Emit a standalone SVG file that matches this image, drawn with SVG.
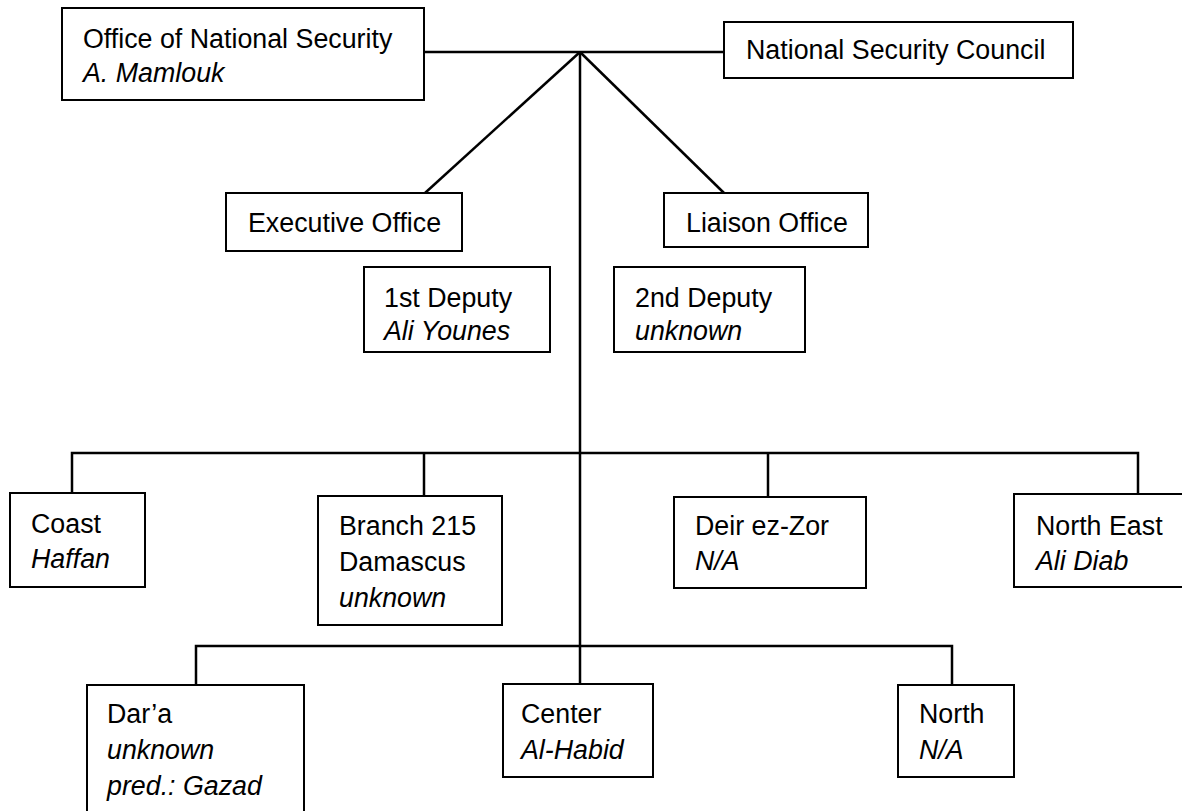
<svg xmlns="http://www.w3.org/2000/svg" width="1182" height="811" viewBox="0 0 1182 811">
<style>
  .box { fill: #ffffff; stroke: #000000; stroke-width: 2; }
  .ln { fill: none; stroke: #000000; stroke-width: 2.5; stroke-linecap: butt; }
  text { font-family: "Liberation Sans", Arial, sans-serif; font-size: 26.8px; fill: #000000; }
  .it { font-style: italic; }
</style>
<rect x="0" y="0" width="1182" height="811" fill="#ffffff"/>
<g id="connectors">
  <line class="ln" x1="424" y1="52" x2="724" y2="52"/>
  <line class="ln" x1="580" y1="52" x2="425" y2="193"/>
  <line class="ln" x1="580" y1="52" x2="724" y2="193"/>
  <line class="ln" x1="580" y1="52" x2="580" y2="684"/>
  <polyline class="ln" points="72,493 72,453 1138,453 1138,494"/>
  <line class="ln" x1="424" y1="453" x2="424" y2="496"/>
  <line class="ln" x1="768" y1="453" x2="768" y2="497"/>
  <polyline class="ln" points="196,685 196,646 952,646 952,685"/>
</g>
<g id="office-national-security">
  <rect class="box" x="62" y="8" width="362" height="92"/>
  <text x="83" y="48">Office of National Security</text>
  <text class="it" x="83" y="82">A. Mamlouk</text>
</g>
<g id="national-security-council">
  <rect class="box" x="724" y="22" width="349" height="56"/>
  <text x="746" y="59">National Security Council</text>
</g>
<g id="executive-office">
  <rect class="box" x="226" y="193" width="236" height="58"/>
  <text x="248" y="232">Executive Office</text>
</g>
<g id="liaison-office">
  <rect class="box" x="664" y="193" width="204" height="54"/>
  <text x="686" y="232">Liaison Office</text>
</g>
<g id="first-deputy">
  <rect class="box" x="364" y="267" width="186" height="85"/>
  <text x="384" y="307">1st Deputy</text>
  <text class="it" x="384" y="340">Ali Younes</text>
</g>
<g id="second-deputy">
  <rect class="box" x="614" y="267" width="191" height="85"/>
  <text x="635" y="307">2nd Deputy</text>
  <text class="it" x="635" y="340">unknown</text>
</g>
<g id="coast">
  <rect class="box" x="10" y="493" width="135" height="94"/>
  <text x="31" y="533">Coast</text>
  <text class="it" x="31" y="568">Haffan</text>
</g>
<g id="branch-215">
  <rect class="box" x="318" y="496" width="184" height="129"/>
  <text x="339" y="535">Branch 215</text>
  <text x="339" y="571">Damascus</text>
  <text class="it" x="339" y="607">unknown</text>
</g>
<g id="deir-ez-zor">
  <rect class="box" x="674" y="497" width="192" height="91"/>
  <text x="695" y="535">Deir ez-Zor</text>
  <text class="it" x="695" y="570">N/A</text>
</g>
<g id="north-east">
  <rect class="box" x="1014" y="494" width="175" height="93"/>
  <text x="1036" y="535">North East</text>
  <text class="it" x="1036" y="570">Ali Diab</text>
</g>
<g id="dara">
  <rect class="box" x="87" y="685" width="217" height="135"/>
  <text x="107" y="723">Dar’a</text>
  <text class="it" x="107" y="759">unknown</text>
  <text class="it" x="107" y="795">pred.: Gazad</text>
</g>
<g id="center">
  <rect class="box" x="503" y="684" width="150" height="93"/>
  <text x="521" y="723">Center</text>
  <text class="it" x="521" y="759">Al-Habid</text>
</g>
<g id="north">
  <rect class="box" x="898" y="685" width="116" height="92"/>
  <text x="919" y="723">North</text>
  <text class="it" x="919" y="759">N/A</text>
</g>
</svg>
